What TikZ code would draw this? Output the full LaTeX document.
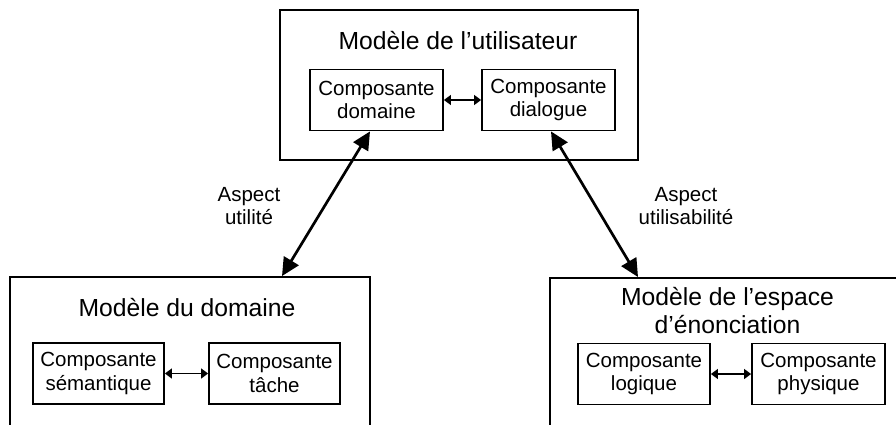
\documentclass[tikz,border=0pt]{standalone}
\usepackage{fontspec}
\setmainfont{Liberation Sans}
\usetikzlibrary{arrows.meta,calc}
\begin{document}
\begin{tikzpicture}[x=1pt,y=-1pt,
  outerbox/.style={draw,line width=1.9pt,inner sep=0pt},
  compbox/.style={draw,line width=1.8pt,minimum width=133pt,minimum height=61pt,align=center,inner sep=0pt,font=\fontsize{20.5}{23.6}\selectfont},
  titletext/.style={anchor=base,align=center,font=\fontsize{24.7}{28.4}\selectfont},
  labeltext/.style={align=center,font=\fontsize{20.5}{23.6}\selectfont},
  bigarrow/.style={line width=2.7pt,{Triangle[length=18pt,width=17pt]}-{Triangle[length=18pt,width=17pt]}},
  smallarrow/.style={line width=1.2pt,{Triangle[length=7pt,width=10pt]}-{Triangle[length=7pt,width=10pt]}}
]
\useasboundingbox (0,0) rectangle (896,425);
\clip (0,0) rectangle (896,425);
% outer boxes
\node[outerbox,minimum width=358pt,minimum height=150pt] (mutil) at (459,85) {};
\node[outerbox,minimum width=360pt,minimum height=193pt] (mdom) at (190,373.5) {};
\node[outerbox,minimum width=390pt,minimum height=192pt] (mesp) at (745,374) {};
% titles
\node[titletext] (tutil) at (458,50) {Modèle de l’utilisateur};
\node[titletext] (tdom) at (187,316) {Modèle du domaine};
\node[titletext] (tesp1) at (727.5,305) {Modèle de l’espace};
\node[titletext] (tesp2) at (727.5,333) {d’énonciation};
% inner boxes
\node[compbox] (cdom) at (376.5,100) {Composante\\domaine};
\node[compbox] (cdia) at (548.5,100) {Composante\\dialogue};
\node[compbox,minimum width=131pt] (csem) at (98.5,373.5) {Composante\\sémantique};
\node[compbox,minimum width=131pt] (ctac) at (274.5,373.5) {Composante\\tâche};
\node[compbox,minimum width=132pt] (clog) at (644,374) {Composante\\logique};
\node[compbox,minimum width=133pt] (cphy) at (818.5,374) {Composante\\physique};
% small arrows
\draw[smallarrow] (cdom.east) -- (cdia.west);
\draw[smallarrow] (csem.east) -- (ctac.west);
\draw[smallarrow] (clog.east) -- (cphy.west);
% big arrows
\draw[bigarrow] ([xshift=-6.5pt]cdom.south) -- ([xshift=92pt]mdom.north);
\draw[bigarrow] ([xshift=2.5pt]cdia.south) -- ([xshift=-107pt]mesp.north);
% labels
\node[labeltext] (lutil) at (249,206) {Aspect\\utilité};
\node[labeltext] (lusab) at (686,206) {Aspect\\utilisabilité};
\end{tikzpicture}
\end{document}
